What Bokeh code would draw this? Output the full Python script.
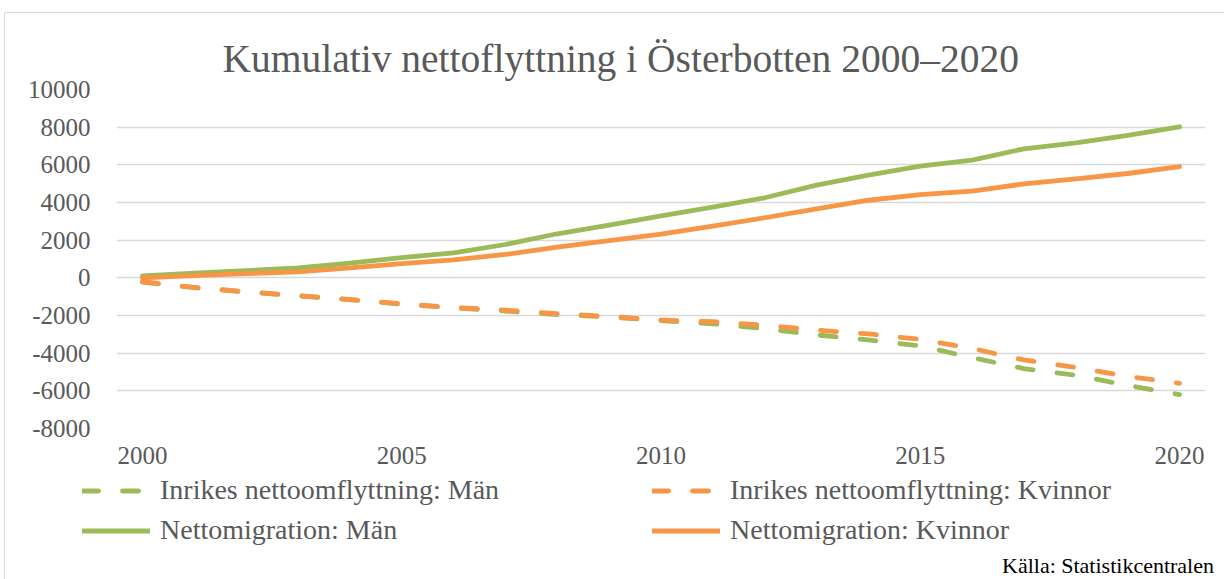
from bokeh.plotting import figure
from bokeh.models import Range1d, FixedTicker, Legend, LegendItem
from bokeh.layouts import column
from bokeh.embed import file_html
from bokeh.resources import INLINE

# ---- data ----
years = list(range(2000, 2021))
inrikes_man = [-230, -520, -750, -960, -1160, -1400, -1590, -1760, -1950, -2080, -2270,
               -2440, -2700, -3030, -3300, -3610, -4240, -4820, -5170, -5710, -6200]
inrikes_kvinnor = [-200, -510, -740, -950, -1150, -1380, -1570, -1720, -1900, -2050, -2240,
                   -2330, -2520, -2775, -2975, -3270, -3750, -4360, -4760, -5230, -5600]
netto_man = [100, 250, 380, 530, 780, 1070, 1330, 1770, 2340, 2800, 3290,
             3750, 4250, 4920, 5450, 5930, 6250, 6850, 7170, 7560, 8020]
netto_kvinnor = [0, 120, 220, 320, 530, 750, 955, 1240, 1630, 1980, 2320,
                 2740, 3190, 3660, 4120, 4420, 4600, 4990, 5260, 5540, 5910]

x_ticks = [2000, 2005, 2010, 2015, 2020]
y_ticks = [-8000, -6000, -4000, -2000, 0, 2000, 4000, 6000, 8000, 10000]

title_text = "Kumulativ nettoflyttning i Österbotten 2000–2020"
labels = ["Inrikes nettoomflyttning: Män", "Inrikes nettoomflyttning: Kvinnor",
          "Nettomigration: Män", "Nettomigration: Kvinnor"]
source_text = "Källa: Statistikcentralen"

GREEN = "#9BBB59"
ORANGE = "#F79646"
GREY_TXT = "#595959"
FONT = "Liberation Serif"
W = 1224
H_MAIN = 474
H_LEG = 105

LW = 4.8
DASH = "16 24"
styles = [dict(line_color=GREEN, line_dash=DASH), dict(line_color=ORANGE, line_dash=DASH),
          dict(line_color=GREEN), dict(line_color=ORANGE)]

# ---------------- main chart ----------------
p = figure(width=W, height=H_MAIN, output_backend="svg", toolbar_location=None,
           x_range=Range1d(1999.5, 2020.5), y_range=Range1d(-8000, 10000),
           min_border_left=116, min_border_right=19, min_border_top=89,
           min_border_bottom=H_MAIN - 428)
p.outline_line_color = None
p.background_fill_color = "white"
p.border_fill_alpha = 0
p.styles = {"background-color": "white",
            "box-shadow": "inset 4px 12px 0 0 white, inset 5px 13px 0 0 #d9d9d9"}

p.title.text = title_text
p.title.align = "left"
p.title.offset = 106
p.title.text_font = FONT
p.title.text_font_size = "39.5px"
p.title.text_font_style = "normal"
p.title.text_color = GREY_TXT
p.title.standoff = 18

p.xaxis.ticker = FixedTicker(ticks=x_ticks)
p.yaxis.ticker = FixedTicker(ticks=y_ticks)
p.yaxis.major_label_overrides = {t: str(t) for t in y_ticks}
for ax in (p.xaxis[0], p.yaxis[0]):
    ax.axis_line_color = None
    ax.major_tick_line_color = None
    ax.minor_tick_line_color = None
    ax.major_tick_in = 0
    ax.major_tick_out = 0
    ax.minor_tick_in = 0
    ax.minor_tick_out = 0
    ax.major_label_text_font = FONT
    ax.major_label_text_font_size = "25px"
    ax.major_label_text_color = GREY_TXT
p.yaxis.major_label_standoff = 26
p.xaxis.major_label_standoff = 18

p.xgrid.visible = False
p.ygrid.grid_line_color = "#d9d9d9"
p.ygrid.grid_line_width = 1.3

series = [inrikes_man, inrikes_kvinnor, netto_man, netto_kvinnor]
for ys, st in zip(series, styles):
    p.line(years, ys, line_width=LW, line_cap="round", line_join="round", **st)

# ---------------- legend + source strip ----------------
p2 = figure(frame_width=W, frame_height=H_LEG, output_backend="svg", toolbar_location=None,
            x_range=Range1d(0, W), y_range=Range1d(0, H_LEG),
            x_axis_type=None, y_axis_type=None,
            min_border_left=0, min_border_right=0, min_border_top=0, min_border_bottom=0)
p2.grid.visible = False
p2.outline_line_color = None
p2.background_fill_alpha = 0
p2.border_fill_alpha = 0
p2.styles = {"background-color": "white",
             "box-shadow": "inset 4px 0 0 0 white, inset 5px 0 0 0 #d9d9d9"}

nan = float("nan")
keys = [p2.line([nan], [nan], line_width=LW, line_cap="round", **st) for st in styles]
blank = p2.line([nan], [nan], line_alpha=0)


def make_legend(items, loc):
    return Legend(items=items, location=loc, orientation="vertical",
                  glyph_width=68, glyph_height=31, label_height=31, label_standoff=10,
                  spacing=8, padding=0, margin=0, border_line_color=None,
                  background_fill_alpha=0, label_text_font=FONT,
                  label_text_font_size="28px", label_text_color=GREY_TXT)


leg1 = make_legend([LegendItem(label=labels[0], renderers=[keys[0]]),
                    LegendItem(label=labels[2], renderers=[keys[2]])], (82, 33))
leg2 = make_legend([LegendItem(label=labels[1], renderers=[keys[1]]),
                    LegendItem(label=labels[3], renderers=[keys[3]])], (652, 33))
p2.add_layout(leg1, "center")
p2.add_layout(leg2, "center")

# source note, placed as a glyph-less legend entry
src = Legend(items=[LegendItem(label=source_text, renderers=[blank])], location=(1001, 0),
             orientation="vertical", glyph_width=1, glyph_height=25, label_height=25,
             label_standoff=0, spacing=0, padding=0, margin=0, border_line_color=None,
             background_fill_alpha=0, label_text_font=FONT, label_text_font_size="22px",
             label_text_color="#000000")
p2.add_layout(src, "center")

page = column(p, p2, spacing=0)
open("out.html", "w").write(file_html(page, INLINE))
